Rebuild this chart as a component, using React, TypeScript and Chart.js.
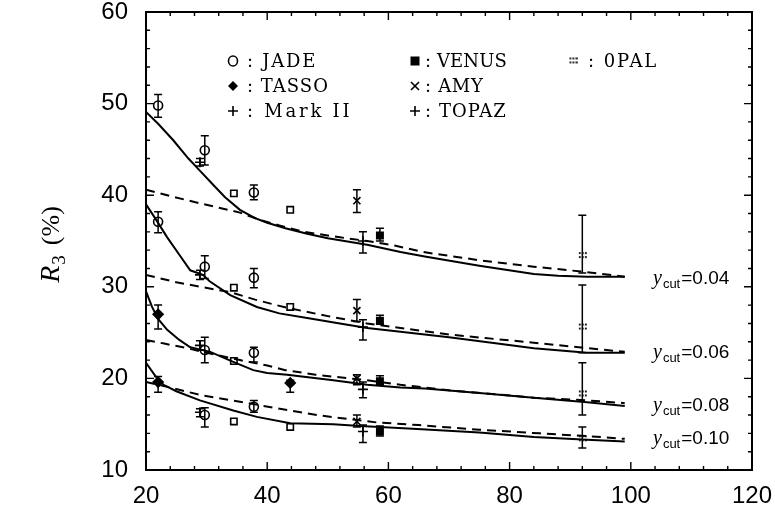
import React, { useEffect, useRef } from "react";
import { Chart, registerables } from "chart.js";
Chart.register(...registerables);

// axis ranges and tick labels
const X_MIN = 20;
const X_MAX = 120;
const Y_MIN = 10;
const Y_MAX = 60;
const X_STEP = 20;
const Y_STEP = 10;

// theory curves [sqrt(s), R3 %]
const solid04 = [[20, 49.1], [22, 47.8], [24.5, 46], [27, 44], [29, 42.6], [31, 41.2], [33, 39.8], [35.5, 38.4], [38, 37.5], [40, 37], [43, 36.4], [46.6, 35.8], [50, 35.3], [56.5, 34.6], [62, 33.8], [66, 33.3], [75, 32.3], [84, 31.4], [88, 31.2], [92.8, 31.1], [99, 31.1]];
const dashed04 = [[20, 40.6], [24, 39.9], [29, 39.1], [35.5, 38.1], [38.8, 37.3], [42, 36.7], [46, 36], [52, 35.4], [56.5, 35], [61, 34.5], [65.7, 33.8], [75, 32.9], [84, 32.2], [92.8, 31.6], [99, 31.1]];
const solid06 = [[20, 39], [21.5, 37.5], [23.5, 35.4], [25.5, 33.5], [27.3, 31.8], [29.4, 31.3], [30.5, 30.6], [33.9, 29.1], [38.3, 27.8], [42, 27.1], [46.6, 26.6], [52, 26], [56.5, 25.5], [62, 25.1], [70, 24.5], [78, 23.8], [84, 23.3], [92.8, 22.8], [99, 22.8]];
const dashed06 = [[20, 31.3], [25, 30.5], [29, 30], [34, 29.4], [38, 28.6], [43.3, 27.7], [50, 26.8], [56.5, 26], [62, 25.5], [70, 24.8], [76, 24.4], [84, 23.9], [92.8, 23.3], [99, 22.9]];
const solid08 = [[20, 29.5], [21, 27.8], [22, 26.5], [23.5, 25.3], [25.5, 24.2], [27.3, 23.4], [30.6, 22.9], [34.4, 21.8], [37.7, 20.9], [40, 20.6], [43.3, 20.4], [50.9, 19.8], [56.5, 19.3], [62, 19], [66, 18.9], [75, 18.4], [84, 17.9], [92.8, 17.4], [99, 17]];
const dashed08 = [[20, 24.2], [23, 23.8], [26.8, 23.3], [30, 22.8], [35.5, 22], [40, 21.4], [43, 20.9], [48, 20.4], [56.5, 19.8], [62, 19.3], [70, 18.7], [84, 17.9], [92.8, 17.6], [99, 17.3]];
const solid10 = [[20, 21.7], [21.5, 20.3], [22.9, 19.3], [25, 18.6], [28.9, 17.6], [34.4, 16.5], [38.3, 15.8], [43.8, 15.1], [50.9, 15], [55.3, 14.8], [58.6, 14.7], [64, 14.5], [75, 14.1], [84, 13.6], [92.8, 13.3], [99, 13.1]];
const dashed10 = [[20, 19.6], [24, 19], [28.9, 18.2], [36, 17.4], [41, 16.8], [48.2, 16], [54.2, 15.5], [58, 15.2], [65, 14.9], [75, 14.4], [85, 14], [92.8, 13.7], [99, 13.4]];

// measurements [sqrt(s), R3, low, high]
const jadeCircles = [[22, 49.8, 48.5, 51.0], [29.7, 44.9, 43.3, 46.5], [37.8, 40.3, 39.5, 41.1], [22, 37.1, 35.9, 38.2], [29.7, 32.2, 30.9, 33.4], [37.8, 31.0, 29.9, 32.0], [29.7, 23.1, 21.7, 24.5], [37.8, 22.8, 21.8, 23.4], [29.7, 16.0, 14.7, 16.8], [37.8, 16.9, 16.3, 17.6]];
const jadeSquares = [[34.5, 40.2, 40.2, 40.2], [43.8, 38.4, 38.4, 38.4], [34.5, 29.9, 29.9, 29.9], [43.8, 27.8, 27.8, 27.8], [34.5, 21.9, 21.9, 21.9], [34.5, 15.3, 15.3, 15.3], [43.8, 14.7, 14.7, 14.7]];
const tasso = [[22, 27.0, 25.4, 28.0], [43.8, 19.5, 18.5, 19.8], [22, 19.6, 18.5, 20.2]];
const markII = [[28.9, 43.6, 43.2, 44.0], [28.9, 31.3, 30.8, 31.8], [28.9, 23.6, 23.1, 24.1], [28.9, 16.3, 15.8, 16.7]];
const amy = [[54.8, 39.4, 38.1, 40.6], [54.8, 27.4, 26.2, 28.6], [54.8, 20.0, 19.3, 20.4], [54.8, 15.3, 14.7, 16.0]];
const topaz = [[55.8, 35.0, 33.7, 36.0], [55.8, 25.6, 24.2, 26.4], [55.8, 18.8, 17.9, 19.6], [55.8, 14.2, 13.0, 14.9]];
const venus = [[58.6, 35.6, 35.0, 36.4], [58.6, 26.3, 25.9, 26.9], [58.6, 19.7, 19.3, 20.3], [58.6, 14.2, 13.7, 14.8]];
const opal = [[92, 33.4, 31.5, 37.8], [92, 25.6, 22.8, 30.2], [92, 18.3, 16.0, 21.7], [92, 13.4, 12.4, 14.7]];

// y_cut labels and the R3 value they sit at
const ycutLabels = ["0.04", "0.06", "0.08", "0.10"];
const ycutLabelY = [31.0, 22.9, 17.1, 13.5];

const legendCols = [
  ["JADE", "TASSO", "Mark II"],
  ["VENUS", "AMY", "TOPAZ"],
  ["0PAL"],
];

function makeDots(): HTMLCanvasElement {
  const c = document.createElement("canvas");
  c.width = 9;
  c.height = 9;
  const g = c.getContext("2d")!;
  g.fillStyle = "#000";
  const pts = [[1, 1], [4, 1], [7, 1], [1, 5], [4, 5], [7, 5]];
  pts.forEach(([x, y]) => g.fillRect(x, y, 1.8, 1.8));
  return c;
}

function drawSymbol(ctx: CanvasRenderingContext2D, kind: string, x: number, y: number, dots: HTMLCanvasElement) {
  ctx.save();
  ctx.strokeStyle = "#000";
  ctx.fillStyle = "#000";
  ctx.lineWidth = 1.6;
  ctx.beginPath();
  if (kind === "circle") {
    ctx.ellipse(x, y, 4.5, 5, 0, 0, Math.PI * 2);
    ctx.stroke();
  } else if (kind === "diamond") {
    ctx.moveTo(x, y - 5); ctx.lineTo(x + 5, y); ctx.lineTo(x, y + 5); ctx.lineTo(x - 5, y); ctx.closePath();
    ctx.fill();
  } else if (kind === "plus") {
    ctx.moveTo(x - 5, y); ctx.lineTo(x + 5, y); ctx.moveTo(x, y - 5); ctx.lineTo(x, y + 5);
    ctx.stroke();
  } else if (kind === "square") {
    ctx.fillRect(x - 4.5, y - 4.5, 9, 9);
  } else if (kind === "cross") {
    ctx.moveTo(x - 4, y - 4); ctx.lineTo(x + 4, y + 4); ctx.moveTo(x + 4, y - 4); ctx.lineTo(x - 4, y + 4);
    ctx.stroke();
  } else if (kind === "dots") {
    ctx.drawImage(dots, x - 4.5, y - 4.5);
  }
  ctx.restore();
}

export default function App() {
  const ref = useRef<HTMLCanvasElement>(null);

  useEffect(() => {
    if (!ref.current) return;
    const dots = makeDots();
    const toXY = (arr: number[][]) => arr.map(([x, y]) => ({ x, y }));
    const lineDs = (arr: number[][], dashed: boolean) => ({
      type: "line" as const,
      data: toXY(arr),
      showLine: true,
      borderColor: "#000",
      borderWidth: 2,
      borderDash: dashed ? [9, 6] : [],
      pointRadius: 0,
      fill: false,
      tension: 0,
    });
    const ptDs = (arr: number[][], style: any, radius: number, filled: boolean) => ({
      type: "scatter" as const,
      data: toXY(arr),
      errLo: arr.map((r) => r[2]),
      errHi: arr.map((r) => r[3]),
      pointStyle: style,
      pointRadius: radius,
      pointBorderWidth: 1.6,
      borderColor: "#000",
      backgroundColor: filled ? "#000" : "#fff",
      showLine: false,
    });

    const errorBars = {
      id: "errorBars",
      afterDatasetsDraw(chart: any) {
        const { ctx, scales } = chart;
        const ys = scales.y;
        ctx.save();
        ctx.strokeStyle = "#000";
        ctx.lineWidth = 1.5;
        chart.data.datasets.forEach((ds: any, i: number) => {
          if (!ds.errLo) return;
          const meta = chart.getDatasetMeta(i);
          meta.data.forEach((el: any, j: number) => {
            const lo = ds.errLo[j];
            const hi = ds.errHi[j];
            if (lo === hi) return;
            const px = el.x;
            const pLo = ys.getPixelForValue(lo);
            const pHi = ys.getPixelForValue(hi);
            ctx.beginPath();
            ctx.moveTo(px, pLo); ctx.lineTo(px, pHi);
            ctx.moveTo(px - 4, pLo); ctx.lineTo(px + 4, pLo);
            ctx.moveTo(px - 4, pHi); ctx.lineTo(px + 4, pHi);
            ctx.stroke();
          });
        });
        ctx.restore();
      },
    };

    const decor = {
      id: "decor",
      afterDraw(chart: any) {
        const { ctx, chartArea: a, scales } = chart;
        const xs = scales.x;
        const ys = scales.y;
        ctx.save();
        ctx.strokeStyle = "#000";
        ctx.lineWidth = 2;
        ctx.strokeRect(a.left, a.top, a.right - a.left, a.bottom - a.top);
        ctx.lineWidth = 1.4;
        ctx.beginPath();
        for (let v = X_MIN; v <= X_MAX; v += 4) {
          const px = xs.getPixelForValue(v);
          const len = v % X_STEP === 0 ? 8 : 4;
          ctx.moveTo(px, a.bottom); ctx.lineTo(px, a.bottom - len);
          ctx.moveTo(px, a.top); ctx.lineTo(px, a.top + len);
        }
        for (let v = Y_MIN; v <= Y_MAX; v += 2) {
          const py = ys.getPixelForValue(v);
          const len = v % Y_STEP === 0 ? 8 : 4;
          ctx.moveTo(a.left, py); ctx.lineTo(a.left + len, py);
          ctx.moveTo(a.right, py); ctx.lineTo(a.right - len, py);
        }
        ctx.stroke();

        // legend
        const kinds = [["circle", "diamond", "plus"], ["square", "cross", "plus"], ["dots"]];
        const symX = [233, 415, 573];
        const textX = [247, 425, 588];
        const rowY = [61, 86, 111];
        ctx.fillStyle = "#000";
        ctx.font = '18px "DejaVu Serif"';
        ctx.textAlign = "left";
        ctx.textBaseline = "middle";
        legendCols.forEach((col, ci) => {
          col.forEach((name, ri) => {
            drawSymbol(ctx, kinds[ci][ri], symX[ci], rowY[ri], dots);
            const s = ": " + name;
            (ctx as any).letterSpacing = "0px";
            const w = ctx.measureText(s).width;
            const target = 11.7 * s.length;
            const sp = Math.max(0, (target - w) / s.length);
            (ctx as any).letterSpacing = sp.toFixed(2) + "px";
            ctx.fillText(s, textX[ci], rowY[ri] + 1);
            (ctx as any).letterSpacing = "0px";
          });
        });

        // y_cut labels
        ctx.textAlign = "left";
        ctx.textBaseline = "alphabetic";
        ycutLabels.forEach((lab, i) => {
          const base = ys.getPixelForValue(ycutLabelY[i]) + 6;
          let x = 653;
          ctx.font = 'italic 20px "Liberation Serif"';
          ctx.fillText("y", x, base);
          x += ctx.measureText("y").width + 1;
          ctx.font = '13px "Liberation Sans"';
          ctx.fillText("cut", x, base + 4);
          x += ctx.measureText("cut").width + 1;
          ctx.font = '19px "Liberation Sans"';
          ctx.fillText("=" + lab, x, base);
        });

        // y axis title R_3 (%)
        ctx.save();
        ctx.translate(50, 245);
        ctx.rotate(-Math.PI / 2);
        ctx.font = 'italic 28px "Liberation Serif"';
        const wR = ctx.measureText("R").width;
        ctx.font = '26px "Liberation Serif"';
        const wP = ctx.measureText("(%)").width;
        ctx.font = '19px "Liberation Serif"';
        const w3 = ctx.measureText("3").width;
        const gap = 10;
        const total = wR + w3 + gap + wP;
        let u = -total / 2;
        ctx.textAlign = "left";
        ctx.font = 'italic 28px "Liberation Serif"';
        ctx.fillText("R", u, 9);
        u += wR + 1;
        ctx.font = '19px "Liberation Serif"';
        ctx.fillText("3", u, 15);
        u += w3 + gap;
        ctx.font = '26px "Liberation Serif"';
        ctx.fillText("(%)", u, 9);
        ctx.restore();

        ctx.restore();
      },
    };

    const chart = new Chart(ref.current, {
      type: "scatter",
      data: {
        datasets: [
          lineDs(solid04, false), lineDs(dashed04, true),
          lineDs(solid06, false), lineDs(dashed06, true),
          lineDs(solid08, false), lineDs(dashed08, true),
          lineDs(solid10, false), lineDs(dashed10, true),
          ptDs(jadeCircles, "circle", 4.5, false),
          ptDs(jadeSquares, "rect", 4.5, false),
          ptDs(tasso, "rectRot", 5, true),
          ptDs(markII, "cross", 5, false),
          ptDs(amy, "crossRot", 5, false),
          ptDs(topaz, "cross", 5, false),
          ptDs(venus, "rect", 4.5, true),
          ptDs(opal, dots, 5, false),
        ] as any,
      },
      options: {
        animation: false,
        responsive: false,
        devicePixelRatio: 1,
        events: [],
        layout: { padding: { left: 0, top: 12, right: 23, bottom: 0 } },
        plugins: { legend: { display: false }, tooltip: { enabled: false } },
        scales: {
          x: {
            type: "linear",
            min: X_MIN,
            max: X_MAX,
            grid: { display: false, drawTicks: false },
            border: { display: false },
            ticks: {
              stepSize: X_STEP,
              color: "#000",
              padding: 12,
              maxRotation: 0,
              font: { family: "Liberation Sans", size: 24 },
            },
            afterFit(s: any) {
              s.height = 42;
              s.paddingLeft = 0;
              s.paddingRight = 0;
            },
          },
          y: {
            type: "linear",
            min: Y_MIN,
            max: Y_MAX,
            grid: { display: false, drawTicks: false },
            border: { display: false },
            ticks: {
              stepSize: Y_STEP,
              color: "#000",
              padding: 18,
              font: { family: "Liberation Sans", size: 24 },
            },
            afterFit(s: any) {
              s.width = 146;
              s.paddingTop = 0;
              s.paddingBottom = 0;
            },
          },
        },
      } as any,
      plugins: [errorBars, decor],
    });
    return () => chart.destroy();
  }, []);

  return (
    <div style={{ position: "absolute", left: 0, top: 0, width: 775, height: 512, background: "#fff" }}>
      <canvas ref={ref} width={775} height={512} />
    </div>
  );
}
